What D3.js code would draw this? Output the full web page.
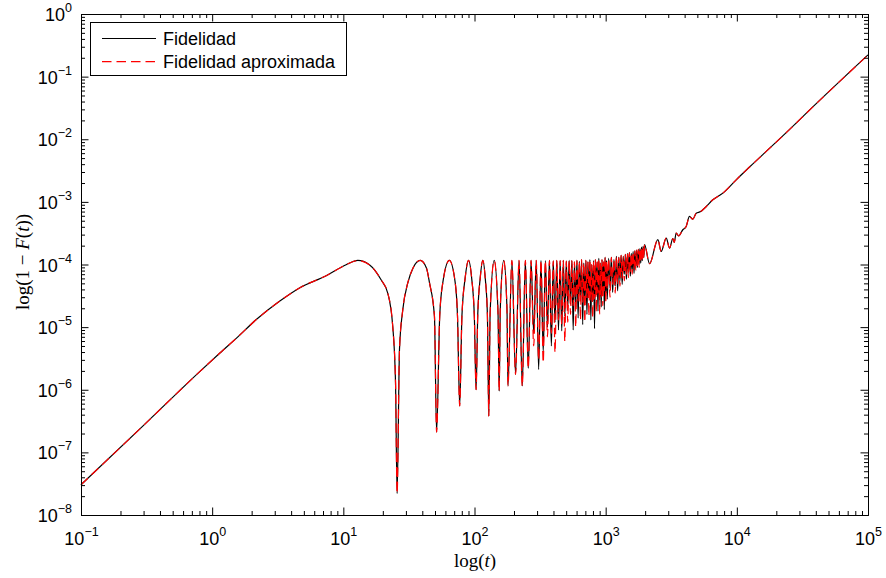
<!DOCTYPE html>
<html>
<head>
<meta charset="utf-8">
<script src="https://cdn.jsdelivr.net/npm/d3@7"></script>
<style>
body { margin: 0; background: #fff; }
text { font-family: "Liberation Sans", Arial, Helvetica, sans-serif; fill: #000; }
.serif { font-family: "Liberation Serif", "Times New Roman", serif; }
.domain, .tick line { stroke: #000; stroke-width: 1; }
</style>
</head>
<body>
<script>
var width = 886
var height = 578

var seriesNames = ["Fidelidad", "Fidelidad aproximada"]
var seriesColors = ["#000000", "#ff0000"]

// slow rise, first peak and the wide oscillations (both curves agree here)
var headT = [0.1, 0.3, 0.8, 1.14, 1.57, 2.17, 3.26, 4.63, 7.4, 10.5, 12.9, 15.8, 19.4, 21.8, 23.8, 25.0, 25.7, 26.8, 28.4, 31.0, 34.0, 38.6, 43.0, 45.4, 49.5, 51.4,
    54.3, 57.3, 64.3, 71.3, 74.2, 77.1,
    80.2, 84.8, 90.0, 95.2, 99.7, 102.8,
    105.9, 110.5, 115.7, 120.8, 125.4, 128.5,
    131.6, 141.4, 151.1, 154.2,
    157.3, 167.0, 176.8, 179.9,
    192.8, 205.6, 218.5, 231.3, 244.2, 257.0, 269.9]
var headV = [3.04e-8, 2.7e-7, 1.93e-6, 3.82e-6, 7.0e-6, 1.32e-5, 2.58e-5, 4.22e-5, 6.63e-5, 9.9e-5, 1.16e-4, 9.9e-5, 5.7e-5, 3.5e-5, 1.03e-5, 1.29e-6, 2.2e-8, 4.4e-6, 1.9e-5, 5.07e-5, 8.8e-5, 1.16e-4, 8.8e-5, 5.07e-5, 1.49e-5, 2.1e-7,
    1.5e-5, 5.1e-5, 1.16e-4, 5.1e-5, 1.5e-5, 5.5e-7,
    1.5e-5, 6.0e-5, 1.16e-4, 6.0e-5, 1.5e-5, 1.0e-6,
    1.6e-5, 6.0e-5, 1.16e-4, 6.0e-5, 1.6e-5, 3.8e-7,
    1.7e-5, 1.16e-4, 1.7e-5, 9.5e-7,
    2.0e-5, 1.16e-4, 2.0e-5, 1.15e-6,
    1.16e-4, 1.75e-6, 1.16e-4, 1.15e-6, 1.16e-4, 2.2e-6, 1.16e-4]

// dense part: dip times, the peak following each dip
var denseDipT = [282.7, 308.4, 334.1, 359.8, 385.5, 411.2, 436.9, 462.6, 488.3, 514.0,
    539.7, 565.4, 591.1, 616.8, 642.5, 668.2, 693.9, 719.6, 745.3, 771.0,
    796.7, 822.4, 848.1, 873.8, 899.5, 925.2, 950.9, 976.6, 1002.3,
    1028, 1079.4, 1130.8, 1182.2, 1233.6, 1285, 1336.4, 1387.8, 1439.2, 1490.6,
    1542, 1593.4, 1644.8, 1696.2, 1747.6, 1799, 1850.4, 1901.8, 1953.2]
var densePeakT = [295.6, 321.3, 347.0, 372.7, 398.4, 424.1, 449.8, 475.5, 501.2, 526.9,
    552.6, 578.3, 604.0, 629.7, 655.4, 681.1, 706.8, 732.5, 758.2, 783.9,
    809.6, 835.3, 861.0, 886.7, 912.4, 938.1, 963.8, 989.5, 1015.2,
    1053.7, 1105.1, 1156.5, 1207.9, 1259.3, 1310.7, 1362.1, 1413.5, 1464.9, 1516.3,
    1567.7, 1619.1, 1670.5, 1721.9, 1773.3, 1824.7, 1876.1, 1927.5, 1978]
var densePeak = [1.16e-4, 1.16e-4, 1.15e-4, 1.16e-4, 1.14e-4, 1.16e-4, 1.15e-4, 1.16e-4, 1.13e-4, 1.16e-4,
    1.15e-4, 1.1e-4, 1.16e-4, 1.12e-4, 1.2e-4, 1.05e-4, 1.16e-4, 1.1e-4, 1.2e-4, 1.0e-4,
    1.15e-4, 1.2e-4, 1.1e-4, 1.25e-4, 1.05e-4, 1.2e-4, 1.1e-4, 1.3e-4, 1.15e-4,
    1.25e-4, 1.3e-4, 1.2e-4, 1.35e-4, 1.3e-4, 1.4e-4, 1.35e-4, 1.45e-4, 1.5e-4, 1.55e-4,
    1.5e-4, 1.6e-4, 1.65e-4, 1.7e-4, 1.75e-4, 1.8e-4, 1.9e-4, 1.95e-4, 2.07e-4]
var fidDip = [8e-6, 2.1e-6, 4e-6, 1.0e-5, 5e-6, 1.2e-5, 9e-6, 8.7e-6, 1.5e-5, 2e-5,
    2.3e-5, 9e-6, 2.1e-5, 1.4e-5, 2.8e-5, 1.1e-5, 2.4e-5, 1.6e-5, 3.2e-5, 1.3e-5,
    2.6e-5, 9.5e-6, 3.3e-5, 1.8e-5, 2.7e-5, 2.1e-5, 4e-5, 1.9e-5, 3.5e-5,
    2.8e-5, 4.2e-5, 3.6e-5, 4.5e-5, 3.8e-5, 5.5e-5, 4.8e-5, 7e-5, 5.8e-5, 7.5e-5,
    6.5e-5, 8e-5, 7.2e-5, 8.8e-5, 9e-5, 1.0e-4, 1.05e-4, 1.15e-4, 1.3e-4]
var aproxDip = [5e-6, 3e-6, 2.7e-6, 7e-6, 8e-6, 3.9e-6, 1.3e-5, 1.1e-5, 5.9e-6, 1.2e-5,
    1.6e-5, 2.2e-5, 1.0e-5, 2.6e-5, 1.3e-5, 2.5e-5, 1.2e-5, 2.9e-5, 1.5e-5, 2.7e-5,
    1.4e-5, 2.8e-5, 1.7e-5, 3.5e-5, 1.6e-5, 3e-5, 2.2e-5, 3.8e-5, 2.4e-5,
    4e-5, 3e-5, 4.8e-5, 3.5e-5, 5e-5, 4.5e-5, 6e-5, 5.5e-5, 7e-5, 6.2e-5,
    7.8e-5, 7e-5, 8.5e-5, 8e-5, 9.5e-5, 9e-5, 1.1e-4, 1.1e-4, 1.25e-4]

// slow beats and the t^2 growth at the end
var tailT = [2160, 2500, 2650, 2895, 3070, 3250, 3330, 3450, 3600, 3875, 4100, 4355, 4620, 4900, 5300, 5845, 6560, 7820, 9890, 12500, 22400, 40300, 100000]
var tailV = [1.03e-4, 2.49e-4, 1.62e-4, 2.64e-4, 1.83e-4, 2.6e-4, 2.25e-4, 3.18e-4, 2.85e-4, 3.59e-4, 4.0e-4, 5.85e-4, 5.3e-4, 6.6e-4, 7.0e-4, 8.45e-4, 1.08e-3, 1.38e-3, 2.25e-3, 3.6e-3, 0.0113, 0.037, 0.222]

var x = d3.scaleLog().domain([0.1, 1e5]).range([81, 868])
var y = d3.scaleLog().domain([1e-8, 1]).range([515, 14])

var svg = d3.select("body")
    .append("svg")
    .attr("width", width)
    .attr("height", height)

function buildSeries(dips) {
    var pts = headT.map(function (t, i) { return [t, headV[i]] })
    denseDipT.forEach(function (t, i) {
        pts.push([t, dips[i]])
        pts.push([densePeakT[i], densePeak[i]])
    })
    tailT.forEach(function (t, i) { pts.push([t, tailV[i]]) })
    return pts
}

var line = d3.line()
    .x(function (d) { return x(d[0]) })
    .y(function (d) { return y(d[1]) })
    .curve(d3.curveMonotoneX)

svg.append("path")
    .datum(buildSeries(fidDip))
    .attr("d", line)
    .attr("fill", "none")
    .attr("stroke", seriesColors[0])
    .attr("stroke-width", 1.2)

svg.append("path")
    .datum(buildSeries(aproxDip))
    .attr("d", line)
    .attr("fill", "none")
    .attr("stroke", seriesColors[1])
    .attr("stroke-width", 1.2)
    .attr("stroke-dasharray", "9.5,5")

function isDecade(d) { return Math.abs(Math.log10(d) - Math.round(Math.log10(d))) < 1e-9 }

var xMajor = x.ticks().filter(isDecade)
var xMinor = x.ticks().filter(function (d) { return !isDecade(d) })
var yMajor = y.ticks().filter(isDecade)
var yMinor = y.ticks().filter(function (d) { return !isDecade(d) })

// box with inward ticks on all four sides
function drawAxis(axisFn, scale, tr, values, size) {
    svg.append("g")
        .attr("transform", tr)
        .call(axisFn(scale).tickValues(values).tickSize(-size).tickSizeOuter(0).tickFormat(""))
}
drawAxis(d3.axisBottom, x, "translate(0,515)", xMinor, 4)
drawAxis(d3.axisBottom, x, "translate(0,515)", xMajor, 7.5)
drawAxis(d3.axisTop, x, "translate(0,14)", xMinor, 4)
drawAxis(d3.axisTop, x, "translate(0,14)", xMajor, 7.5)
drawAxis(d3.axisLeft, y, "translate(81,0)", yMinor, 4)
drawAxis(d3.axisLeft, y, "translate(81,0)", yMajor, 7.5)
drawAxis(d3.axisRight, y, "translate(868,0)", yMinor, 4)
drawAxis(d3.axisRight, y, "translate(868,0)", yMajor, 7.5)

function expText(d) {
    var e = Math.round(Math.log10(d))
    return e < 0 ? "\u2212" + (-e) : "" + e
}

var xLab = svg.selectAll(".xlab")
    .data(xMajor)
    .enter()
    .append("text")
    .attr("class", "xlab")
    .attr("x", function (d) { return x(d) + 0.5 })
    .attr("y", 545)
    .attr("text-anchor", "middle")
    .style("font-size", "18px")
xLab.append("tspan").text("10")
xLab.append("tspan").attr("dy", -9).style("font-size", "12.5px").text(expText)

var yLab = svg.selectAll(".ylab")
    .data(yMajor)
    .enter()
    .append("text")
    .attr("class", "ylab")
    .attr("x", 72)
    .attr("y", function (d) { return y(d) + 7 })
    .attr("text-anchor", "end")
    .style("font-size", "18px")
yLab.append("tspan").text("10")
yLab.append("tspan").attr("dy", -9).style("font-size", "12.5px").text(expText)

// axis titles
var xTitle = svg.append("text")
    .attr("class", "serif")
    .attr("x", 475)
    .attr("y", 567)
    .attr("text-anchor", "middle")
    .style("font-size", "19px")
xTitle.append("tspan").text("log(")
xTitle.append("tspan").style("font-style", "italic").text("t")
xTitle.append("tspan").text(")")

var yTitle = svg.append("text")
    .attr("class", "serif")
    .attr("transform", "translate(29,262) rotate(-90)")
    .attr("text-anchor", "middle")
    .style("font-size", "19px")
yTitle.append("tspan").text("log(1 \u2212 ")
yTitle.append("tspan").style("font-style", "italic").text("F")
yTitle.append("tspan").text("(")
yTitle.append("tspan").style("font-style", "italic").text("t")
yTitle.append("tspan").text("))")

// legend
var legend = svg.append("g")
legend.append("rect")
    .attr("x", 90.5)
    .attr("y", 22.5)
    .attr("width", 256)
    .attr("height", 53)
    .attr("fill", "#fff")
    .attr("stroke", "#000")
    .attr("stroke-width", 1)

var item = legend.selectAll(".item")
    .data(seriesNames)
    .enter()
    .append("g")
    .attr("transform", function (d, i) { return "translate(0," + (38.5 + i * 23.2) + ")" })
item.append("line")
    .attr("x1", 102)
    .attr("x2", 156)
    .attr("stroke", function (d, i) { return seriesColors[i] })
    .attr("stroke-width", 1.2)
    .attr("stroke-dasharray", function (d, i) { return i ? "9.5,5" : null })
item.append("text")
    .attr("x", 163)
    .attr("y", 6)
    .style("font-size", "18px")
    .text(function (d) { return d })
</script>
</body>
</html>
